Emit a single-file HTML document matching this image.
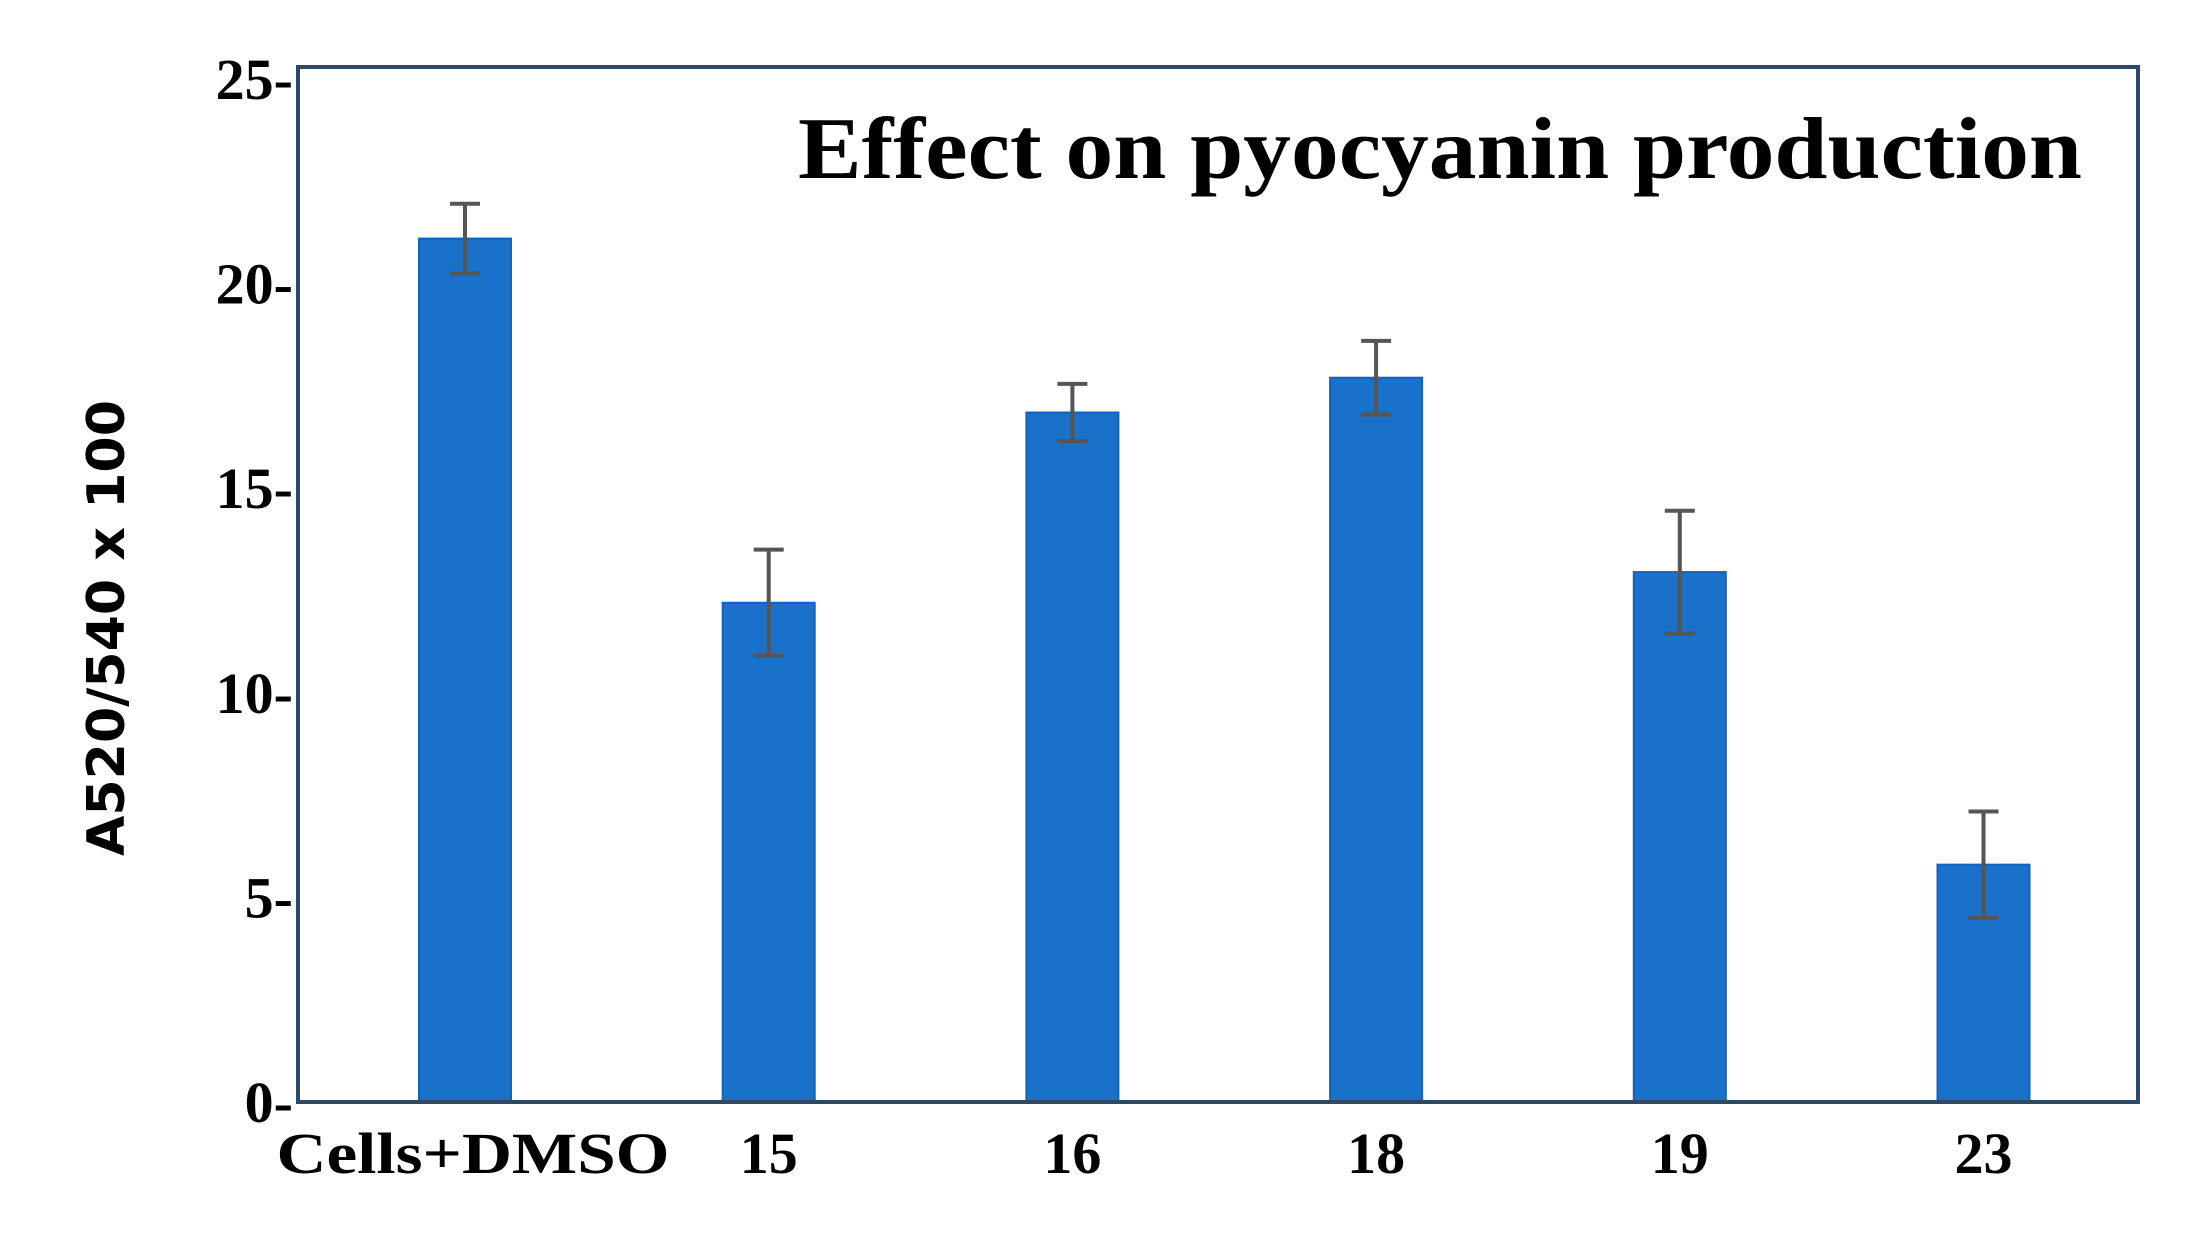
<!DOCTYPE html>
<html><head><meta charset="utf-8"><style>
html,body{margin:0;padding:0;background:#fff;}
svg{display:block;}
</style></head><body>
<svg id="chart" width="2190" height="1244" viewBox="0 0 2190 1244" xmlns="http://www.w3.org/2000/svg">
<rect x="0" y="0" width="2190" height="1244" fill="#fff"/>
<g id="bars"></g>
<g id="errs"></g>
<rect x="298" y="67" width="1840" height="1035" fill="none" stroke="#2c4968" stroke-width="4"/>
<g id="yticks"></g>
<g id="xlabels"></g>
<text x="798" y="178" font-family="'Liberation Serif',serif" font-weight="bold" font-size="88" textLength="1284" lengthAdjust="spacingAndGlyphs" fill="#000">Effect on pyocyanin production</text>
<text transform="translate(124,628) rotate(-90)" text-anchor="middle" font-family="'DejaVu Sans','Liberation Sans',sans-serif" font-weight="bold" font-size="52" textLength="456" lengthAdjust="spacingAndGlyphs" fill="#000">A520/540 x 100</text>
</svg>
<script>
const categories = ["Cells+DMSO","15","16","18","19","23"];
const values = [21.1, 12.2, 16.85, 17.7, 12.95, 5.8];
const errors = [0.85, 1.3, 0.7, 0.9, 1.5, 1.3];
const yTicks = [0,5,10,15,20,25];

const NS="http://www.w3.org/2000/svg";
const plotB=1102, yMax=25, yTopPix=79;
function y(v){ return plotB - v*(plotB-yTopPix)/yMax; }
const firstC=465, step=303.7, barW=92;
function x(i){ return firstC + i*step; }
function mk(tag, attrs){ const e=document.createElementNS(NS,tag); for(const k in attrs) e.setAttribute(k,attrs[k]); return e; }

const gb=document.getElementById('bars'), ge=document.getElementById('errs');
const gy=document.getElementById('yticks'), gx=document.getElementById('xlabels');
values.forEach((v,i)=>{
  const r=mk('rect',{x:x(i)-barW/2,y:y(v),width:barW,height:plotB-y(v),fill:'#1a71c9',stroke:'#0f62c0','stroke-width':2});
  
  
  gb.appendChild(r);
  const e=errors[i], cx=x(i);
  const g=mk('g',{stroke:'#555',"stroke-width":4,fill:'none'});
  
  
  g.appendChild(mk('line',{x1:cx,x2:cx,y1:y(v+e),y2:y(v-e)}));
  g.appendChild(mk('line',{x1:cx-15,x2:cx+15,y1:y(v+e),y2:y(v+e)}));
  g.appendChild(mk('line',{x1:cx-15,x2:cx+15,y1:y(v-e),y2:y(v-e)}));
  ge.appendChild(g);
  const t=mk('text',{x:cx+(i===0?8:0),y:1173,'text-anchor':'middle','font-family':"'Liberation Serif',serif",'font-weight':'bold','font-size':58,fill:'#000'});
  if(i===0){ t.setAttribute('textLength',393); t.setAttribute('lengthAdjust','spacingAndGlyphs'); }
  t.textContent=categories[i];
  
  
  gx.appendChild(t);
});
yTicks.forEach(tv=>{
  const t=mk('text',{x:293,y:y(tv)+20,'text-anchor':'end','font-family':"'Liberation Serif',serif",'font-weight':'bold','font-size':58,fill:'#000'});
  t.textContent=tv+'-';
  
  
  gy.appendChild(t);
});
</script>
</body></html>
